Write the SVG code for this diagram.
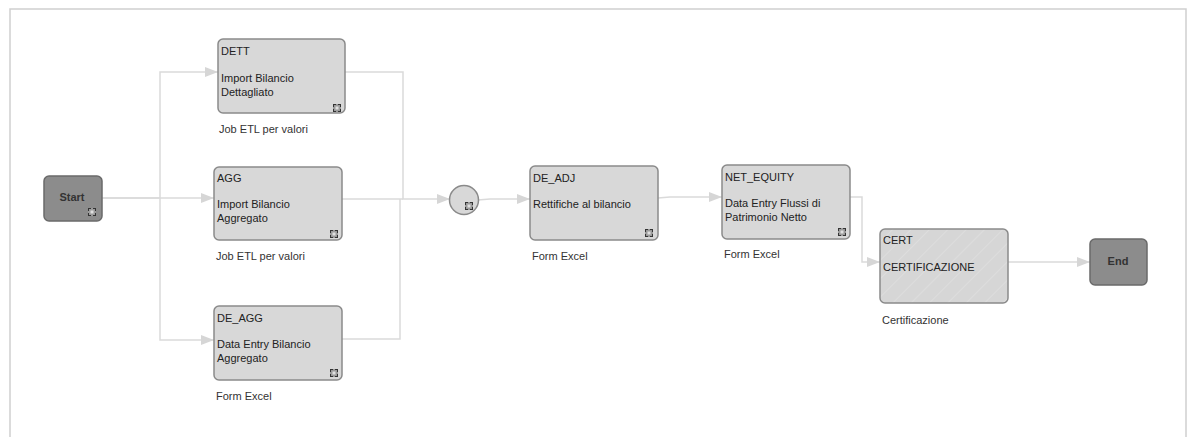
<svg xmlns="http://www.w3.org/2000/svg" width="1188" height="437" viewBox="0 0 1188 437">
<style>
  .frame{fill:#fff;stroke:#cfcfcf;stroke-width:1.5}
  .task{fill:#d8d8d8;stroke:#8a8a8a;stroke-width:1.5}
  .term{fill:#8c8c8c;stroke:#6a6a6a;stroke-width:1.5}
  .conn{fill:none;stroke:#dadada;stroke-width:1.5;marker-end:url(#arr)}
  .line{fill:none;stroke:#dadada;stroke-width:1.5}
  text{font-family:"Liberation Sans",Arial,sans-serif;font-size:11px;fill:#222}
  .bold{font-weight:bold;fill:#333;text-anchor:middle}
  .lbl{fill:#333}
</style>
<defs>
  <marker id="arr" markerUnits="userSpaceOnUse" markerWidth="14" markerHeight="11" refX="13" refY="5" orient="auto">
    <path d="M0,0 L13,5 L0,10 z" fill="#d6d6d6"/>
  </marker>
  <pattern id="hatch" patternUnits="userSpaceOnUse" width="13" height="13" patternTransform="rotate(45)">
    <rect width="13" height="13" fill="#d6d6d6"/>
    <line x1="0" y1="0" x2="0" y2="13" stroke="#e3e3e3" stroke-width="1.2"/>
  </pattern>
  <g id="ico">
    <rect x="0" y="0" width="8" height="8" fill="#9a9a9a"/>
    <path d="M0,0 h3 v1 h-2 v2 h-1z M8,0 v3 h-1 v-2 h-2 v-1z M0,8 v-3 h1 v2 h2 v1z M8,8 h-3 v-1 h2 v-2 h1z" fill="#333"/>
    <rect x="2.5" y="2.5" width="3" height="3" fill="#e0e0e0"/>
  </g>
</defs>
<rect class="frame" x="10" y="9" width="1176" height="440"/>
<g id="connectors">
  <path class="conn" d="M102,198 H160 V72 H218"/>
  <path class="conn" d="M102,198 H214"/>
  <path class="conn" d="M160,198 V340 H214"/>
  <path class="conn" d="M345,72 H403 V199 H450"/>
  <path class="line" d="M342,199 H403"/>
  <path class="line" d="M342,339 H400 V199"/>
  <path class="conn" d="M478,200 L490,199 H530"/>
  <path class="conn" d="M658,198 L670,197 H722"/>
  <path class="conn" d="M850,197 H862 V262 H880"/>
  <path class="conn" d="M1008,262 H1090"/>
</g>
<g id="start">
  <rect class="term" x="44" y="176" width="58" height="45" rx="5"/>
  <text class="bold" x="72" y="201">Start</text>
  <use href="#ico" x="88" y="208"/>
</g>
<g id="dett">
  <rect class="task" x="218" y="39" width="127" height="74" rx="5"/>
  <text x="221" y="55">DETT</text>
  <text x="221" y="82">Import Bilancio</text>
  <text x="221" y="96">Dettagliato</text>
  <use href="#ico" x="333" y="104"/>
  <text class="lbl" x="219" y="133">Job ETL per valori</text>
</g>
<g id="agg">
  <rect class="task" x="214" y="167" width="128" height="73" rx="5"/>
  <text x="217" y="182">AGG</text>
  <text x="217" y="208">Import Bilancio</text>
  <text x="217" y="222">Aggregato</text>
  <use href="#ico" x="330" y="230"/>
  <text class="lbl" x="216" y="260">Job ETL per valori</text>
</g>
<g id="de_agg">
  <rect class="task" x="214" y="306" width="128" height="74" rx="5"/>
  <text x="217" y="322">DE_AGG</text>
  <text x="217" y="348">Data Entry Bilancio</text>
  <text x="217" y="362">Aggregato</text>
  <use href="#ico" x="330" y="369"/>
  <text class="lbl" x="216" y="400">Form Excel</text>
</g>
<g id="gateway">
  <circle cx="464" cy="200" r="14.5" fill="#d8d8d8" stroke="#8a8a8a" stroke-width="1.5"/>
  <use href="#ico" x="465" y="202"/>
</g>
<g id="de_adj">
  <rect class="task" x="530" y="166" width="128" height="74" rx="5"/>
  <text x="533" y="182">DE_ADJ</text>
  <text x="533" y="208">Rettifiche al bilancio</text>
  <use href="#ico" x="645" y="229"/>
  <text class="lbl" x="532" y="260">Form Excel</text>
</g>
<g id="net_equity">
  <rect class="task" x="722" y="165" width="128" height="74" rx="5"/>
  <text x="725" y="181">NET_EQUITY</text>
  <text x="725" y="207">Data Entry Flussi di</text>
  <text x="725" y="221">Patrimonio Netto</text>
  <use href="#ico" x="838" y="228"/>
  <text class="lbl" x="724" y="258">Form Excel</text>
</g>
<g id="cert">
  <rect x="880" y="229" width="128" height="74" rx="5" fill="url(#hatch)" stroke="#8a8a8a" stroke-width="1.5"/>
  <text x="883" y="244">CERT</text>
  <text x="883" y="271">CERTIFICAZIONE</text>
  <text class="lbl" x="882" y="324">Certificazione</text>
</g>
<g id="end">
  <rect class="term" x="1090" y="239" width="57" height="46" rx="5"/>
  <text class="bold" x="1118" y="265">End</text>
</g>
</svg>
